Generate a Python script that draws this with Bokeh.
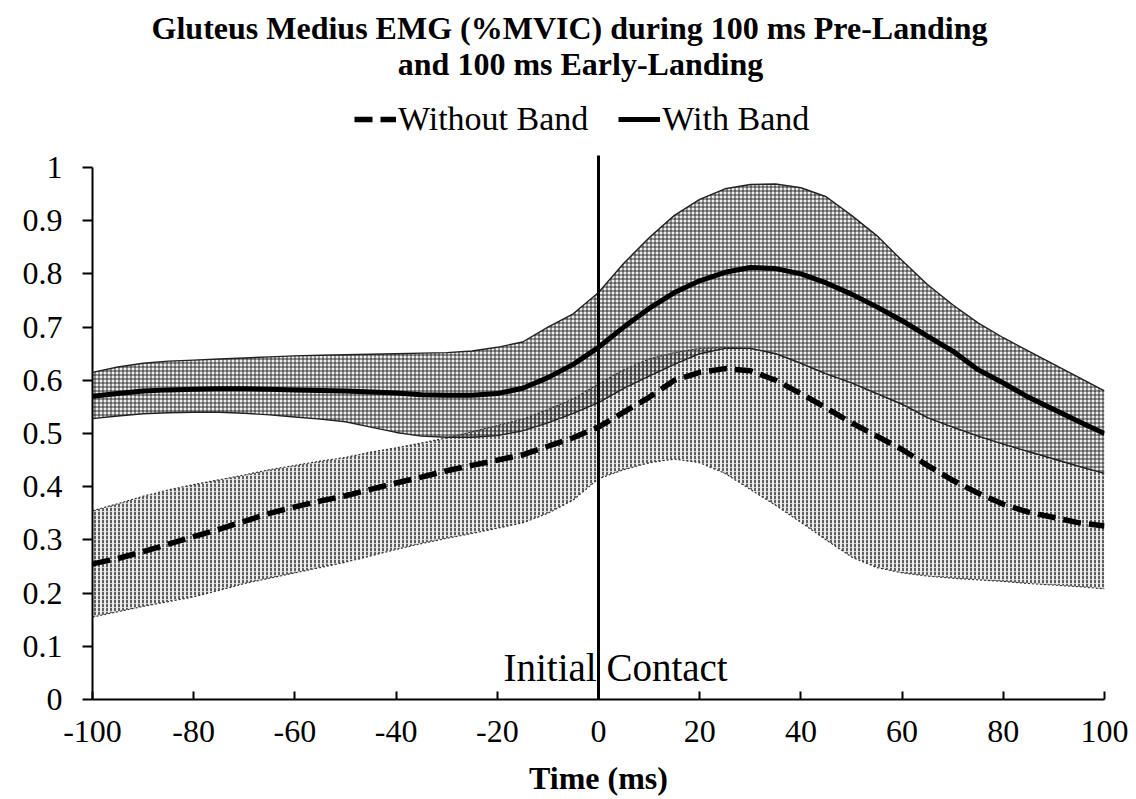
from bokeh.plotting import figure
from bokeh.models import (ColumnDataSource, Legend, LegendItem, Label,
                          FixedTicker)
from bokeh.embed import file_html
from bokeh.resources import INLINE

# ---------------- data ----------------
time_ms = [-100, -95, -90, -85, -80, -75, -70, -65, -60, -55, -50, -45, -40,
           -35, -30, -25, -20, -15, -10, -5, 0, 5, 10, 15, 20, 25, 30, 35, 40,
           45, 50, 55, 60, 65, 70, 75, 80, 85, 90, 95, 100]

with_mean = [0.570, 0.575, 0.580, 0.582, 0.583, 0.584, 0.584, 0.583, 0.582,
             0.581, 0.580, 0.578, 0.576, 0.573, 0.572, 0.572, 0.575, 0.585,
             0.605, 0.630, 0.662, 0.700, 0.735, 0.765, 0.787, 0.803, 0.812,
             0.810, 0.800, 0.783, 0.762, 0.738, 0.712, 0.683, 0.655, 0.620,
             0.595, 0.568, 0.545, 0.522, 0.500]
with_upper = [0.615, 0.625, 0.632, 0.636, 0.638, 0.640, 0.642, 0.644, 0.646,
              0.647, 0.648, 0.649, 0.650, 0.651, 0.652, 0.655, 0.662, 0.672,
              0.700, 0.725, 0.765, 0.820, 0.868, 0.910, 0.940, 0.960, 0.968,
              0.969, 0.962, 0.945, 0.910, 0.872, 0.825, 0.780, 0.742, 0.708,
              0.680, 0.655, 0.630, 0.605, 0.580]
with_lower = [0.528, 0.533, 0.537, 0.539, 0.540, 0.540, 0.538, 0.535, 0.531,
              0.527, 0.522, 0.512, 0.502, 0.495, 0.493, 0.493, 0.496, 0.505,
              0.520, 0.538, 0.558, 0.585, 0.608, 0.630, 0.650, 0.660, 0.660,
              0.650, 0.632, 0.612, 0.595, 0.575, 0.555, 0.530, 0.512, 0.495,
              0.480, 0.466, 0.452, 0.438, 0.425]

without_mean = [0.255, 0.265, 0.278, 0.292, 0.306, 0.320, 0.335, 0.350, 0.362,
                0.373, 0.383, 0.395, 0.407, 0.418, 0.430, 0.440, 0.450, 0.460,
                0.476, 0.492, 0.512, 0.540, 0.568, 0.600, 0.615, 0.622, 0.618,
                0.600, 0.575, 0.548, 0.520, 0.495, 0.470, 0.440, 0.412, 0.388,
                0.367, 0.352, 0.342, 0.332, 0.326]
without_upper = [0.355, 0.368, 0.382, 0.394, 0.404, 0.413, 0.422, 0.432, 0.440,
                 0.448, 0.455, 0.465, 0.473, 0.482, 0.492, 0.503, 0.515, 0.527,
                 0.545, 0.565, 0.593, 0.620, 0.640, 0.652, 0.660, 0.662, 0.660,
                 0.650, 0.632, 0.612, 0.595, 0.575, 0.555, 0.530, 0.512, 0.495,
                 0.480, 0.466, 0.452, 0.438, 0.425]
without_lower = [0.155, 0.165, 0.175, 0.184, 0.193, 0.205, 0.218, 0.228, 0.238,
                 0.248, 0.258, 0.270, 0.282, 0.293, 0.303, 0.312, 0.322, 0.332,
                 0.350, 0.375, 0.415, 0.432, 0.445, 0.452, 0.445, 0.425, 0.395,
                 0.365, 0.333, 0.300, 0.268, 0.248, 0.238, 0.232, 0.228, 0.225,
                 0.222, 0.218, 0.215, 0.212, 0.208]

x_ticks = [-100, -80, -60, -40, -20, 0, 20, 40, 60, 80, 100]
x_tick_labels = ["-100", "-80", "-60", "-40", "-20", "0", "20", "40", "60",
                 "80", "100"]
y_ticks = [0, 0.1, 0.2, 0.3, 0.4, 0.5, 0.6, 0.7, 0.8, 0.9, 1]
y_tick_labels = ["0", "0.1", "0.2", "0.3", "0.4", "0.5", "0.6", "0.7", "0.8",
                 "0.9", "1"]

contact_time = [0]
title_lines = ["Gluteus Medius EMG (%MVIC) during 100 ms Pre-Landing",
               "and 100 ms Early-Landing"]
series_names = ["Without Band", "With Band"]
x_label = "Time (ms)"
marker_text = "Initial Contact"

FONT = "Liberation Serif"

# pixel geometry of the frame: x -100..100 -> 92..1104, y 0 -> 699, 1 -> 167
PX_PER_Y = 532.0
Y_TOP = 699 / PX_PER_Y          # frame reaches the top of the canvas


def ypix(py):
    """data y for a canvas row (used for the annotation texts only)"""
    return (699 - py) / PX_PER_Y


def xpix(px):
    return (px - 92) / 5.06 - 100


src = ColumnDataSource(dict(t=time_ms, wm=with_mean, wu=with_upper, wl=with_lower,
                            nm=without_mean, nu=without_upper, nl=without_lower))

p = figure(width=1136, height=799, x_range=(-100, 100), y_range=(0, Y_TOP),
           output_backend="svg", toolbar_location=None,
           min_border_left=92, min_border_right=32, min_border_bottom=100,
           min_border_top=0)
p.outline_line_color = None
p.xgrid.visible = False
p.ygrid.visible = False
p.background_fill_color = "white"
p.border_fill_color = "white"

# bands
p.varea(x="t", y1="nl", y2="nu", source=src, fill_color="#ececec", fill_alpha=1,
        hatch_pattern=":", hatch_color="black", hatch_scale=4, hatch_weight=1.4,
        hatch_alpha=0.85)
p.varea(x="t", y1="wl", y2="wu", source=src, fill_color="#cfcfcf", fill_alpha=0.35,
        hatch_pattern="+", hatch_color="black", hatch_scale=4, hatch_weight=1,
        hatch_alpha=0.75)
for col in ["nl", "nu"]:
    p.line(x="t", y=col, source=src, line_color="#333333", line_width=1.2,
           line_dash="2 2")
for col in ["wl", "wu"]:
    p.line(x="t", y=col, source=src, line_color="#222222", line_width=1.4)

# means
r_without = p.line(x="t", y="nm", source=src, line_color="black", line_width=5.5,
                   line_dash="18 8")
r_with = p.line(x="t", y="wm", source=src, line_color="black", line_width=5)

# initial contact line + text
p.segment(x0=contact_time, y0=[0], x1=contact_time, y1=[ypix(155)],
          line_color="black", line_width=3)
p.add_layout(Label(x=xpix(503), y=ypix(667), text=marker_text, text_font=FONT,
                   text_font_size="39px", text_align="left",
                   text_baseline="alphabetic", text_color="black"))

# titles
p.add_layout(Label(x=xpix(569), y=ypix(27), text=title_lines[0], text_font=FONT,
                   text_font_size="32px", text_font_style="bold",
                   text_align="center", text_baseline="middle",
                   text_color="black"))
p.add_layout(Label(x=xpix(580), y=ypix(63), text=title_lines[1], text_font=FONT,
                   text_font_size="32px", text_font_style="bold",
                   text_align="center", text_baseline="middle",
                   text_color="black"))

# axes
xa = p.xaxis[0]
xa.ticker = FixedTicker(ticks=x_ticks)
xa.major_label_overrides = {t: l for t, l in zip(x_ticks, x_tick_labels)}
xa.bounds = (-100, 100)
xa.axis_line_width = 2
xa.axis_line_color = "black"
xa.major_tick_in = 8
xa.major_tick_out = 0
xa.major_tick_line_width = 2
xa.minor_tick_line_color = None
xa.major_label_text_font = FONT
xa.major_label_text_font_size = "32px"
xa.major_label_text_color = "black"
xa.major_label_standoff = 21
xa.axis_label = x_label
xa.axis_label_text_font = FONT
xa.axis_label_text_font_size = "32px"
xa.axis_label_text_font_style = "bold"
xa.axis_label_text_color = "black"
xa.axis_label_standoff = 15

ya = p.yaxis[0]
ya.ticker = FixedTicker(ticks=y_ticks)
ya.major_label_overrides = {t: l for t, l in zip(y_ticks, y_tick_labels)}
ya.bounds = (0, 1)
ya.axis_line_width = 2
ya.axis_line_color = "black"
ya.major_tick_in = 0
ya.major_tick_out = 10
ya.major_tick_line_width = 2
ya.minor_tick_line_color = None
ya.major_label_text_font = FONT
ya.major_label_text_font_size = "32px"
ya.major_label_text_color = "black"
ya.major_label_standoff = 20

# legend inside the (tall) frame, above the data
legend = Legend(items=[LegendItem(label=series_names[0], renderers=[r_without]),
                       LegendItem(label=series_names[1], renderers=[r_with])],
                orientation="horizontal", location=(262, 699 - 138),
                label_text_font=FONT, label_text_font_size="34px",
                label_text_color="black", glyph_width=42, glyph_height=20,
                label_standoff=2, spacing=30, padding=0, margin=0,
                border_line_color=None, background_fill_alpha=0)
p.add_layout(legend, "center")

open("out.html", "w").write(file_html(p, INLINE))
